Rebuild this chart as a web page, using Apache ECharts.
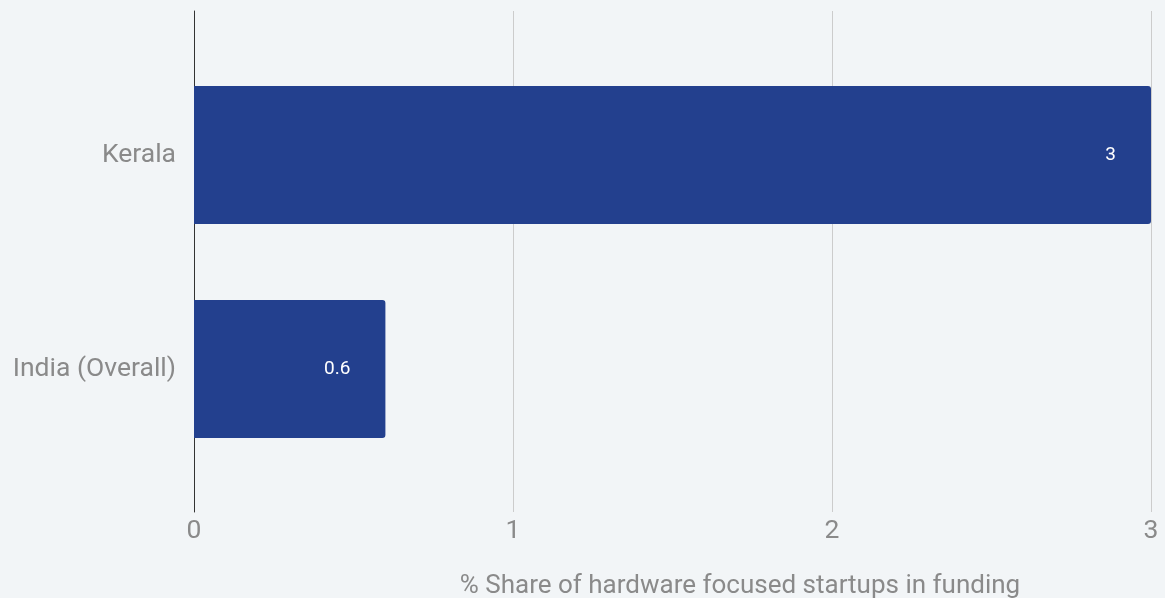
<!DOCTYPE html>
<html>
<head>
<meta charset="utf-8">
<script src="https://cdn.jsdelivr.net/npm/echarts@6/dist/echarts.min.js"></script>
<style>
html,body{margin:0;padding:0;background:#f2f5f7;}
#c{width:1165px;height:598px;}
</style>
</head>
<body>
<div id="c"></div>
<script>
const categories = ['Kerala', 'India (Overall)'];
const values = [3, 0.6];
const xTicks = [0, 1, 2, 3];
const axisTitle = '% Share of hardware focused startups in funding';

const chart = echarts.init(document.getElementById('c'));
const gray = '#8a8a8a';
const font = 'Roboto';
chart.setOption({
  backgroundColor: '#f2f5f7',
  animation: false,
  title: {
    text: axisTitle,
    left: 735, top: 568,
    textAlign: 'center',
    textStyle: {color: gray, fontSize: 26, fontWeight: 'normal', fontFamily: font}
  },
  grid: [
    {left: 194, right: 14, top: 11, bottom: 86},
    {left: 194, right: 14, top: 48, bottom: 122}
  ],
  xAxis: [
    {
      gridIndex: 0, type: 'value', min: xTicks[0], max: xTicks[xTicks.length - 1], interval: 1,
      axisLine: {show: false}, axisTick: {show: false},
      axisLabel: {color: gray, fontSize: 26.5, fontFamily: font, margin: 6},
      splitLine: {lineStyle: {color: '#cccccc', width: 1}}
    },
    {
      gridIndex: 1, type: 'value', min: xTicks[0], max: xTicks[xTicks.length - 1], interval: 1,
      show: false
    }
  ],
  yAxis: [
    {
      gridIndex: 0, type: 'category', data: [''],
      axisLine: {show: true, lineStyle: {color: '#333333', width: 1}},
      axisTick: {show: false}, axisLabel: {show: false}, splitLine: {show: false}
    },
    {
      gridIndex: 1, type: 'category', data: categories, inverse: true,
      axisLine: {show: false}, axisTick: {show: false},
      axisLabel: {color: gray, fontSize: 26.5, fontFamily: font, margin: 18}
    }
  ],
  series: [{
    type: 'bar', xAxisIndex: 1, yAxisIndex: 1,
    data: values,
    barWidth: 138,
    itemStyle: {color: '#23408e', borderRadius: [0, 3, 3, 0]},
    label: {
      show: true, position: 'insideRight', distance: 35,
      color: '#ffffff', fontSize: 19, fontFamily: font
    }
  }]
});
</script>
</body>
</html>
